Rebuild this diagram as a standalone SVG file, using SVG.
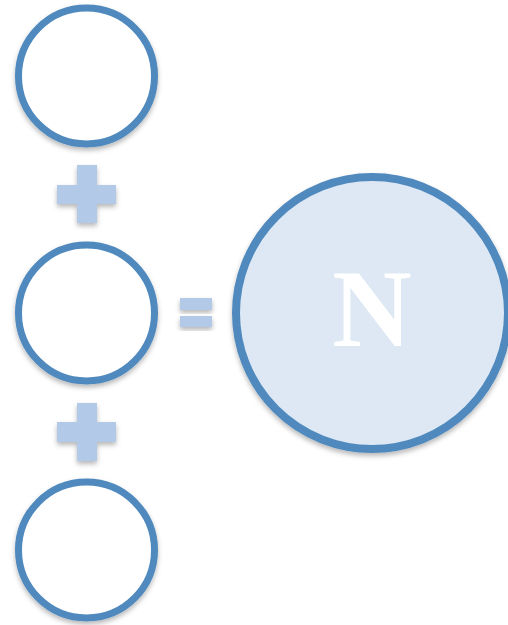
<svg xmlns="http://www.w3.org/2000/svg" width="508" height="625" viewBox="0 0 508 625">
<defs>
<filter id="sh" x="-20%" y="-20%" width="140%" height="150%">
<feDropShadow dx="0" dy="3" stdDeviation="2.5" flood-color="#000" flood-opacity="0.28"/>
</filter>
</defs>
<style>
.ring{fill:#ffffff;stroke:#4F89BD;stroke-width:7;filter:url(#sh)}
.big{fill:#DDE8F4;stroke:#4F89BD;stroke-width:8;filter:url(#sh)}
.op{fill:#B2CAE7;filter:url(#sh)}
.lbl{font-family:"Liberation Serif","DejaVu Serif",serif;font-weight:bold;font-size:110px;fill:#ffffff}
</style>
<g id="circle1"><circle class="ring" cx="86.5" cy="76" r="68"/></g>
<g id="plus1"><path class="op" d="M77 165h20v20h19v19h-19v19h-20v-19h-20v-19h20z"/></g>
<g id="circle2"><circle class="ring" cx="86.5" cy="313" r="68"/></g>
<g id="plus2"><path class="op" d="M77 403h20v19h19v20h-19v19h-20v-19h-20v-20h20z"/></g>
<g id="circle3"><circle class="ring" cx="86.5" cy="550" r="68"/></g>
<g id="equals"><rect class="op" x="180" y="298" width="32" height="12"/><rect class="op" x="180" y="316" width="32" height="11"/></g>
<g id="result"><circle class="big" cx="372" cy="313" r="136"/><text class="lbl" x="372" y="346" text-anchor="middle">N</text></g>
<g id="connectors"></g>
</svg>
